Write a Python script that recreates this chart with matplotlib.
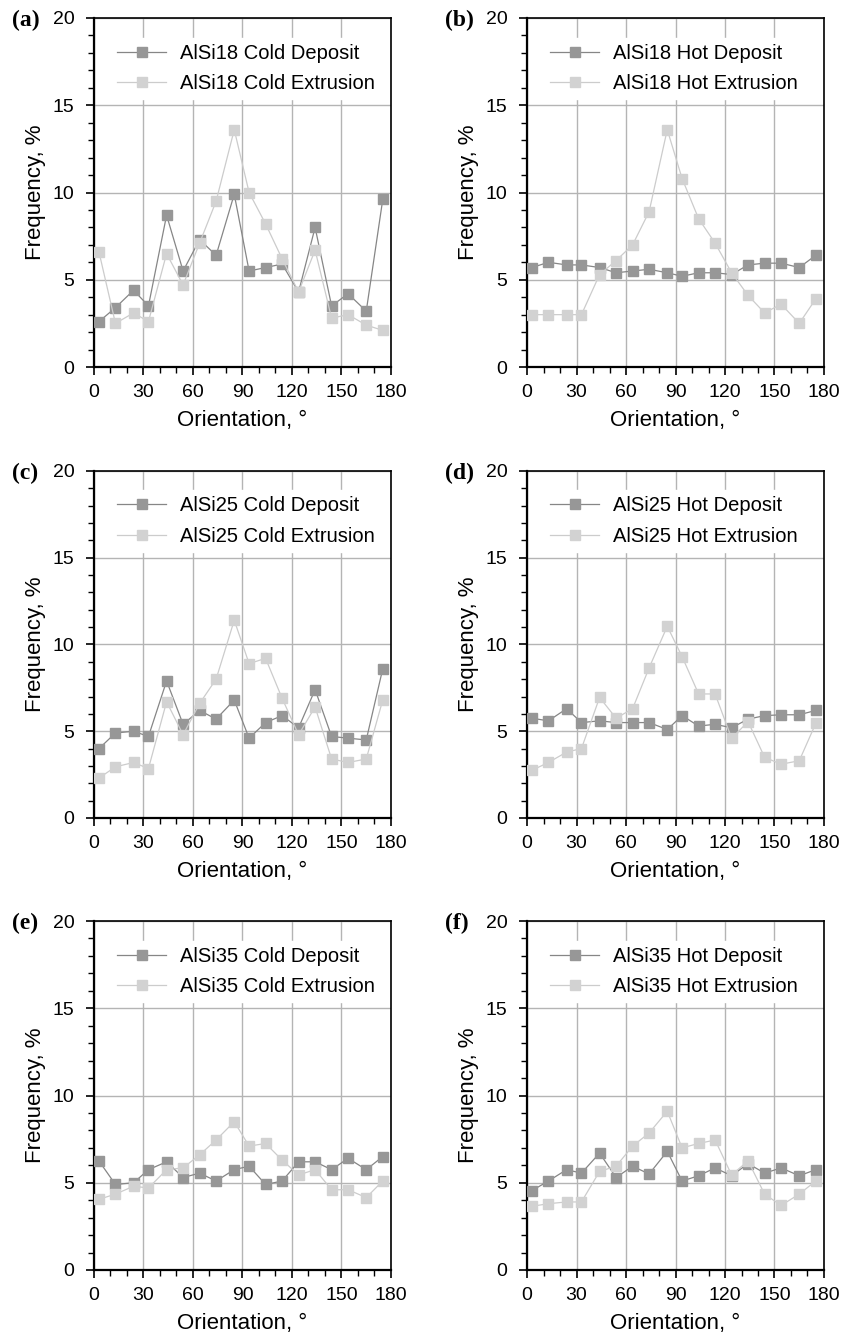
"""
Orientation frequency distributions for AlSi18/25/35, cold and hot, deposit vs extrusion.
"""

import matplotlib

matplotlib.use("Agg")

import matplotlib.pyplot as plt  # noqa: E402
from matplotlib.ticker import MultipleLocator  # noqa: E402

# bin centres of the orientation histogram, degrees
orientation = [3, 13, 24, 33, 44, 54, 64, 74, 85, 94, 104, 114, 124, 134, 144, 154, 165, 175]

# (a) AlSi18 cold
alsi18_cold_deposit = [2.6, 3.4, 4.4, 3.5, 8.7, 5.5, 7.3, 6.4, 9.9, 5.5, 5.7, 5.9,
                       4.3, 8.0, 3.5, 4.2, 3.2, 9.6]
alsi18_cold_extrusion = [6.6, 2.5, 3.1, 2.6, 6.5, 4.7, 7.1, 9.5, 13.6, 10.0, 8.2, 6.2,
                         4.3, 6.7, 2.8, 3.0, 2.4, 2.1]
# (b) AlSi18 hot
alsi18_hot_deposit = [5.7, 6.0, 5.85, 5.85, 5.7, 5.4, 5.5, 5.6, 5.4, 5.2, 5.4, 5.4,
                      5.3, 5.85, 5.95, 5.95, 5.7, 6.4]
alsi18_hot_extrusion = [3.0, 3.0, 3.0, 3.0, 5.3, 6.1, 7.0, 8.9, 13.6, 10.8, 8.5, 7.1,
                        5.4, 4.1, 3.1, 3.6, 2.5, 3.9]
# (c) AlSi25 cold
alsi25_cold_deposit = [4.0, 4.9, 5.0, 4.7, 7.9, 5.4, 6.2, 5.7, 6.8, 4.6, 5.5, 5.9,
                       5.2, 7.4, 4.7, 4.6, 4.5, 8.6]
alsi25_cold_extrusion = [2.3, 2.95, 3.2, 2.85, 6.7, 4.8, 6.6, 8.0, 11.4, 8.9, 9.2, 6.9,
                         4.8, 6.4, 3.4, 3.2, 3.4, 6.8]
# (d) AlSi25 hot
alsi25_hot_deposit = [5.75, 5.6, 6.3, 5.5, 5.6, 5.5, 5.5, 5.5, 5.1, 5.9, 5.3, 5.4,
                      5.2, 5.7, 5.9, 5.95, 5.95, 6.2]
alsi25_hot_extrusion = [2.75, 3.2, 3.8, 4.0, 6.95, 5.75, 6.3, 8.65, 11.05, 9.3, 7.15, 7.15,
                        4.6, 5.55, 3.5, 3.1, 3.3, 5.45]
# (e) AlSi35 cold
alsi35_cold_deposit = [6.25, 4.9, 5.0, 5.75, 6.2, 5.3, 5.55, 5.1, 5.75, 5.95, 4.9, 5.1,
                       6.2, 6.2, 5.75, 6.4, 5.75, 6.5]
alsi35_cold_extrusion = [4.05, 4.35, 4.8, 4.7, 5.75, 5.85, 6.6, 7.45, 8.5, 7.1, 7.25, 6.3,
                         5.45, 5.75, 4.6, 4.6, 4.15, 5.1]
# (f) AlSi35 hot
alsi35_hot_deposit = [4.55, 5.1, 5.75, 5.55, 6.7, 5.3, 5.95, 5.5, 6.8, 5.1, 5.4, 5.85,
                      5.4, 6.1, 5.55, 5.85, 5.4, 5.75]
alsi35_hot_extrusion = [3.65, 3.8, 3.9, 3.9, 5.65, 5.95, 7.1, 7.85, 9.1, 7.0, 7.25, 7.45,
                        5.45, 6.25, 4.35, 3.7, 4.35, 5.1]

panels = [
    ("(a)", "AlSi18 Cold", alsi18_cold_deposit, alsi18_cold_extrusion),
    ("(b)", "AlSi18 Hot", alsi18_hot_deposit, alsi18_hot_extrusion),
    ("(c)", "AlSi25 Cold", alsi25_cold_deposit, alsi25_cold_extrusion),
    ("(d)", "AlSi25 Hot", alsi25_hot_deposit, alsi25_hot_extrusion),
    ("(e)", "AlSi35 Cold", alsi35_cold_deposit, alsi35_cold_extrusion),
    ("(f)", "AlSi35 Hot", alsi35_hot_deposit, alsi35_hot_extrusion),
]

W, H = 854, 1337
plt.rcParams["font.family"] = ["Liberation Sans", "DejaVu Sans"]

fig = plt.figure(figsize=(W / 100, H / 100), dpi=100)

# axes boxes in pixels: left, right / top, bottom
col_x = [(94, 391), (527, 824)]
row_y = [(18, 367), (471, 818), (921, 1270)]

for i, (tag, name, dep, ext) in enumerate(panels):
    x0, x1 = col_x[i % 2]
    y0, y1 = row_y[i // 2]
    ax = fig.add_axes([x0 / W, 1 - y1 / H, (x1 - x0) / W, (y1 - y0) / H])

    ax.plot(orientation, dep, color="#868686", lw=0.9, marker="s", ms=7.5,
            mfc="#979797", mec="#979797", label=f"{name} Deposit", zorder=3)
    ax.plot(orientation, ext, color="#cccccc", lw=0.9, marker="s", ms=7.5,
            mfc="#d2d2d2", mec="#d2d2d2", label=f"{name} Extrusion", zorder=4)

    ax.set_xlim(0, 180)
    ax.set_ylim(0, 20)
    ax.xaxis.set_major_locator(MultipleLocator(30))
    ax.xaxis.set_minor_locator(MultipleLocator(10))
    ax.yaxis.set_major_locator(MultipleLocator(5))
    ax.yaxis.set_minor_locator(MultipleLocator(1))
    ax.tick_params(which="major", direction="out", length=6, width=1.2, labelsize=14)
    ax.tick_params(which="minor", direction="out", length=4, width=1.0)
    ax.tick_params(axis="x", which="major", pad=6)
    ax.tick_params(axis="y", which="major", pad=8)
    ax.grid(True, which="major", color="#b4b4b4", lw=1.0)
    ax.set_axisbelow(True)
    for side in ["left", "bottom"]:
        ax.spines[side].set_linewidth(1.6)
    for side in ["top", "right"]:
        ax.spines[side].set_linewidth(1.2)

    ax.set_xlabel("Orientation, °", fontsize=16, labelpad=7)
    ax.set_ylabel("Frequency, %", fontsize=16, labelpad=5)

    leg = ax.legend(loc="upper left", bbox_to_anchor=(0.057, 0.944), borderaxespad=0,
                    fontsize=14.5, frameon=True, fancybox=False, framealpha=1,
                    edgecolor="white", handlelength=2.45, handletextpad=0.7,
                    labelspacing=0.55, borderpad=0.3)
    leg.set_zorder(5)

    fig.text((x0 - 82) / W, 1 - (y0 + 2) / H, tag, family="Liberation Serif",
             fontweight="bold", fontsize=17, va="center", ha="left")

fig.savefig("out.png", dpi=100)
plt.close(fig)
